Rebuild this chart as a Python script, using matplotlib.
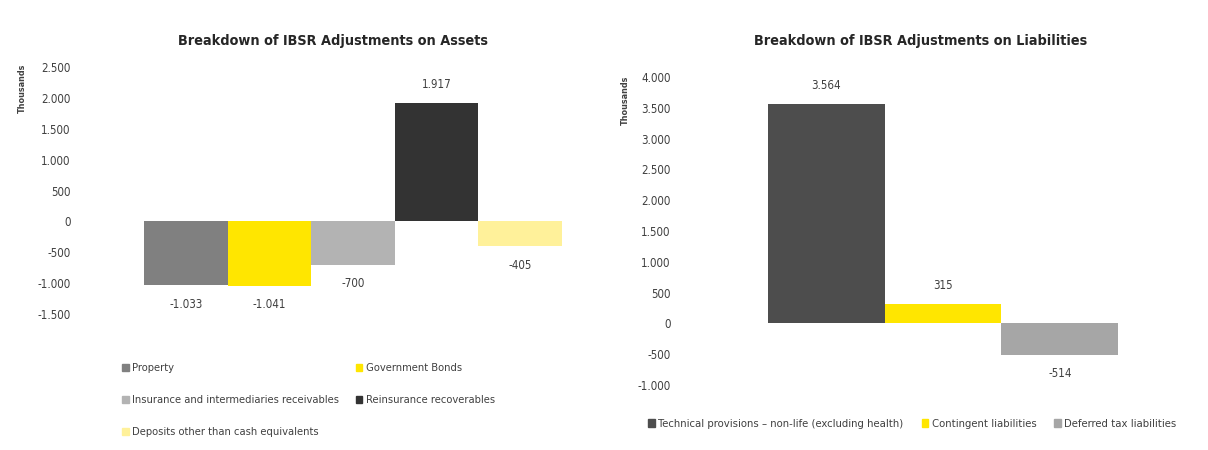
import matplotlib.pyplot as plt
from matplotlib.patches import Patch

# Left chart: assets
asset_names = ['Property', 'Government Bonds', 'Insurance and intermediaries receivables',
               'Reinsurance recoverables', 'Deposits other than cash equivalents']
asset_values = [-1033, -1041, -700, 1917, -405]
asset_colors = ['#808080', '#FFE600', '#B3B3B3', '#333333', '#FFF19A']
asset_ticks = [2500, 2000, 1500, 1000, 500, 0, -500, -1000, -1500]

# Right chart: liabilities
liab_names = ['Technical provisions \u2013 non-life (excluding health)',
              'Contingent liabilities', 'Deferred tax liabilities']
liab_values = [3564, 315, -514]
liab_colors = ['#4D4D4D', '#FFE600', '#A6A6A6']
liab_ticks = [4000, 3500, 3000, 2500, 2000, 1500, 1000, 500, 0, -500, -1000]

plt.rcParams['font.family'] = ['DejaVu Sans']
plt.rcParams['font.stretch'] = 'condensed'


def fmt(v):
    # thousands separator is a dot
    return f'{v:,}'.replace(',', '.')


def draw(ax, values, colors, ticks, bw, label_gap, pad):
    n = len(values)
    for i, (v, c) in enumerate(zip(values, colors)):
        x = 0.5 + (i - (n - 1) / 2) * bw
        ax.bar(x, v, width=bw, color=c)
        if v >= 0:
            ax.text(x, v + label_gap, fmt(v), ha='center', va='bottom', fontsize=8.3, color='#404040')
        else:
            ax.text(x, v - label_gap, fmt(v), ha='center', va='top', fontsize=8.3, color='#404040')
    ax.set_xlim(0, 1)
    ax.set_ylim(min(ticks), max(ticks))
    ax.set_yticks(ticks)
    ax.set_yticklabels([fmt(t) for t in ticks], fontsize=8.3, color='#404040')
    ax.set_xticks([])
    ax.tick_params(axis='y', length=0, pad=pad)
    for s in ax.spines.values():
        s.set_visible(False)


fig = plt.figure(figsize=(12.08, 4.5), dpi=100)

ax1 = fig.add_axes([100 / 1208, 1 - 314 / 450, 506 / 1208, 247 / 450])
draw(ax1, asset_values, asset_colors, asset_ticks, 0.165, 200, 21)
fig.text(333 / 1208, 1 - 41 / 450, 'Breakdown of IBSR Adjustments on Assets',
         ha='center', va='center', fontsize=10.4, fontweight='bold', color='#262626')
fig.text(22 / 1208, 1 - 88 / 450, 'Thousands', rotation=90, ha='center', va='center',
         fontsize=6.5, fontweight='bold', color='#404040')

ax2 = fig.add_axes([690 / 1208, 1 - 385 / 450, 506 / 1208, 308 / 450])
draw(ax2, liab_values, liab_colors, liab_ticks, 0.231, 200, 14)
fig.text(921 / 1208, 1 - 41 / 450, 'Breakdown of IBSR Adjustments on Liabilities',
         ha='center', va='center', fontsize=10.4, fontweight='bold', color='#262626')
fig.text(625 / 1208, 1 - 100 / 450, 'Thousands', rotation=90, ha='center', va='center',
         fontsize=6.5, fontweight='bold', color='#404040')

# legends (Excel fills rows first, matplotlib fills columns first)
order = [0, 2, 4, 1, 3]
h1 = [Patch(color=asset_colors[i], label=asset_names[i]) for i in order]
fig.legend(handles=h1, ncol=2, loc='upper left', bbox_to_anchor=(112 / 1208, 1 - 353 / 450),
           frameon=False, fontsize=8.0, handlelength=0.6, handleheight=0.6, handletextpad=0.3,
           columnspacing=1.5, labelspacing=2.0, labelcolor='#404040')
h2 = [Patch(color=c, label=n) for c, n in zip(liab_colors, liab_names)]
fig.legend(handles=h2, ncol=3, loc='center left', bbox_to_anchor=(638 / 1208, 1 - 424 / 450),
           frameon=False, fontsize=8.1, handlelength=0.6, handleheight=0.6, handletextpad=0.3,
           columnspacing=1.6, labelcolor='#404040')

fig.savefig('out.png', dpi=100, facecolor='white')
